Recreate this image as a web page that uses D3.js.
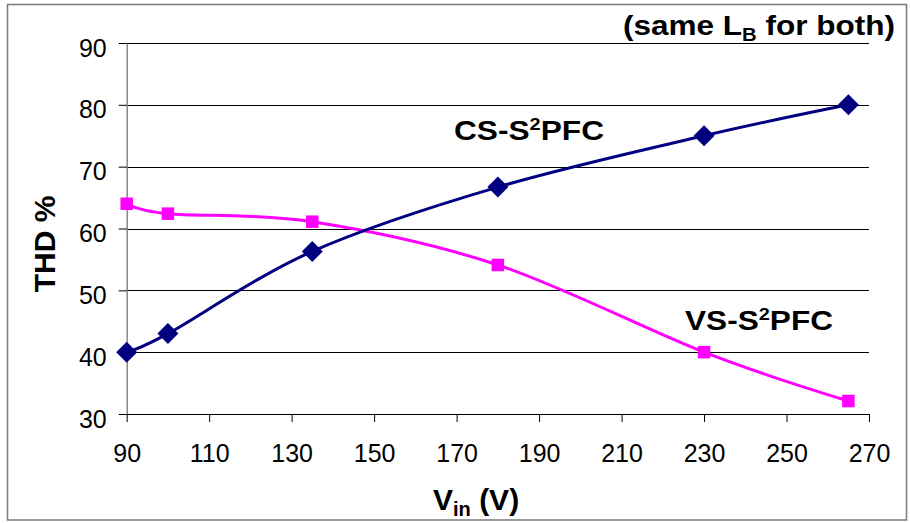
<!DOCTYPE html>
<html>
<head>
<meta charset="utf-8">
<script src="https://cdn.jsdelivr.net/npm/d3@7"></script>
<style>
  html, body { margin: 0; padding: 0; background: #fff; }
  svg { display: block; font-family: "Liberation Sans", Arial, sans-serif; }
</style>
</head>
<body>
<svg id="chart" width="910" height="523"></svg>
<script>
// Input voltage (V) at which THD was measured
const vin = [90, 100, 135, 180, 230, 265];
// THD (%) for the current-source single-stage PFC
const csThd = [40, 43.0, 56.3, 66.7, 75, 80];
// THD (%) for the voltage-source single-stage PFC
const vsThd = [64, 62.4, 61.1, 54.1, 40, 32.1];
// Axis ticks
const xTicks = [90, 110, 130, 150, 170, 190, 210, 230, 250, 270];
const yTicks = [30, 40, 50, 60, 70, 80, 90];

const svg = d3.select("#chart");

const x = d3.scaleLinear().domain([90, 270]).range([126.7, 869]);
const y = d3.scaleLinear().domain([30, 90]).range([414, 43]);

// outer frame
svg.append("rect")
  .attr("x", 7.5).attr("y", 4.5).attr("width", 899).attr("height", 515.5)
  .attr("fill", "#fff").attr("stroke", "#808080").attr("stroke-width", 1.6);

// horizontal gridlines
svg.append("g").selectAll("line")
  .data(yTicks.filter(d => d > 30))
  .join("line")
  .attr("x1", x(90)).attr("x2", x(270))
  .attr("y1", d => Math.round(y(d)) + 0.5).attr("y2", d => Math.round(y(d)) + 0.5)
  .attr("stroke", "#000").attr("stroke-width", 1);

// y axis
const yAxis = d3.axisLeft(y).tickValues(yTicks).tickSize(8).tickPadding(12).tickSizeOuter(0);
const gy = svg.append("g").attr("transform", `translate(${x(90)},0)`).call(yAxis);
gy.select(".domain").attr("stroke", "#808080").attr("stroke-width", 1.4);
gy.selectAll(".tick line").attr("stroke", "#000");
gy.selectAll(".tick text")
  .attr("font-size", 25).attr("fill", "#000")
  .attr("font-family", "Liberation Sans, Arial, sans-serif")
  .attr("dy", "0.52em");

// x axis
const xAxis = d3.axisBottom(x).tickValues(xTicks).tickSize(8).tickPadding(22).tickSizeOuter(0);
const gx = svg.append("g").attr("transform", `translate(0,${y(30)})`).call(xAxis);
gx.select(".domain").attr("stroke", "#000").attr("stroke-width", 1.2);
gx.selectAll(".tick line").attr("stroke", "#000");
gx.selectAll(".tick text")
  .attr("font-size", 25).attr("fill", "#000")
  .attr("font-family", "Liberation Sans, Arial, sans-serif");

// smoothed series lines
const line = d3.line().curve(d3.curveCardinal.tension(0))
  .x((d, i) => x(vin[i])).y(d => y(d));

svg.append("path").datum(vsThd).attr("d", line)
  .attr("fill", "none").attr("stroke", "#ff00ff").attr("stroke-width", 3);
svg.append("path").datum(csThd).attr("d", line)
  .attr("fill", "none").attr("stroke", "#000080").attr("stroke-width", 3);

// square markers
const sq = 12.5;
svg.append("g").selectAll("rect")
  .data(vsThd).join("rect")
  .attr("x", (d, i) => x(vin[i]) - sq / 2).attr("y", d => y(d) - sq / 2)
  .attr("width", sq).attr("height", sq).attr("fill", "#ff00ff");

// diamond markers
const dr = 10.5;
svg.append("g").selectAll("path")
  .data(csThd).join("path")
  .attr("d", (d, i) => {
    const cx = x(vin[i]), cy = y(d);
    return `M${cx},${cy - dr}L${cx + dr},${cy}L${cx},${cy + dr}L${cx - dr},${cy}Z`;
  })
  .attr("fill", "#000080");

// series labels
function seriesLabel(tx, ty, prefix, len) {
  const t = svg.append("text")
    .attr("x", tx).attr("y", ty)
    .attr("font-size", 27).attr("font-weight", "bold").attr("fill", "#000")
    .attr("textLength", len).attr("lengthAdjust", "spacingAndGlyphs");
  t.append("tspan").text(prefix + "-S");
  t.append("tspan").attr("font-size", 17).attr("dy", -10).text("2");
  t.append("tspan").attr("dy", 10).text("PFC");
}
seriesLabel(454, 140, "CS", 150);
seriesLabel(685, 330, "VS", 148);

// note in the top-right corner
const note = svg.append("text")
  .attr("x", 623).attr("y", 35)
  .attr("font-size", 28).attr("font-weight", "bold").attr("fill", "#000")
  .attr("textLength", 272).attr("lengthAdjust", "spacingAndGlyphs");
note.append("tspan").text("(same L");
note.append("tspan").attr("font-size", 18).attr("dy", 6).text("B");
note.append("tspan").attr("dy", -6).text(" for both)");

// x axis title
const xt = svg.append("text")
  .attr("x", 433).attr("y", 510)
  .attr("font-size", 30).attr("font-weight", "bold").attr("fill", "#000");
xt.append("tspan").text("V");
xt.append("tspan").attr("font-size", 20).attr("dy", 6).text("in");
xt.append("tspan").attr("dy", -6).text(" (V)");

// y axis title
svg.append("text")
  .attr("transform", "translate(55,244) rotate(-90)")
  .attr("text-anchor", "middle")
  .attr("font-size", 30).attr("font-weight", "bold").attr("fill", "#000")
  .text("THD %");
</script>
</body>
</html>
